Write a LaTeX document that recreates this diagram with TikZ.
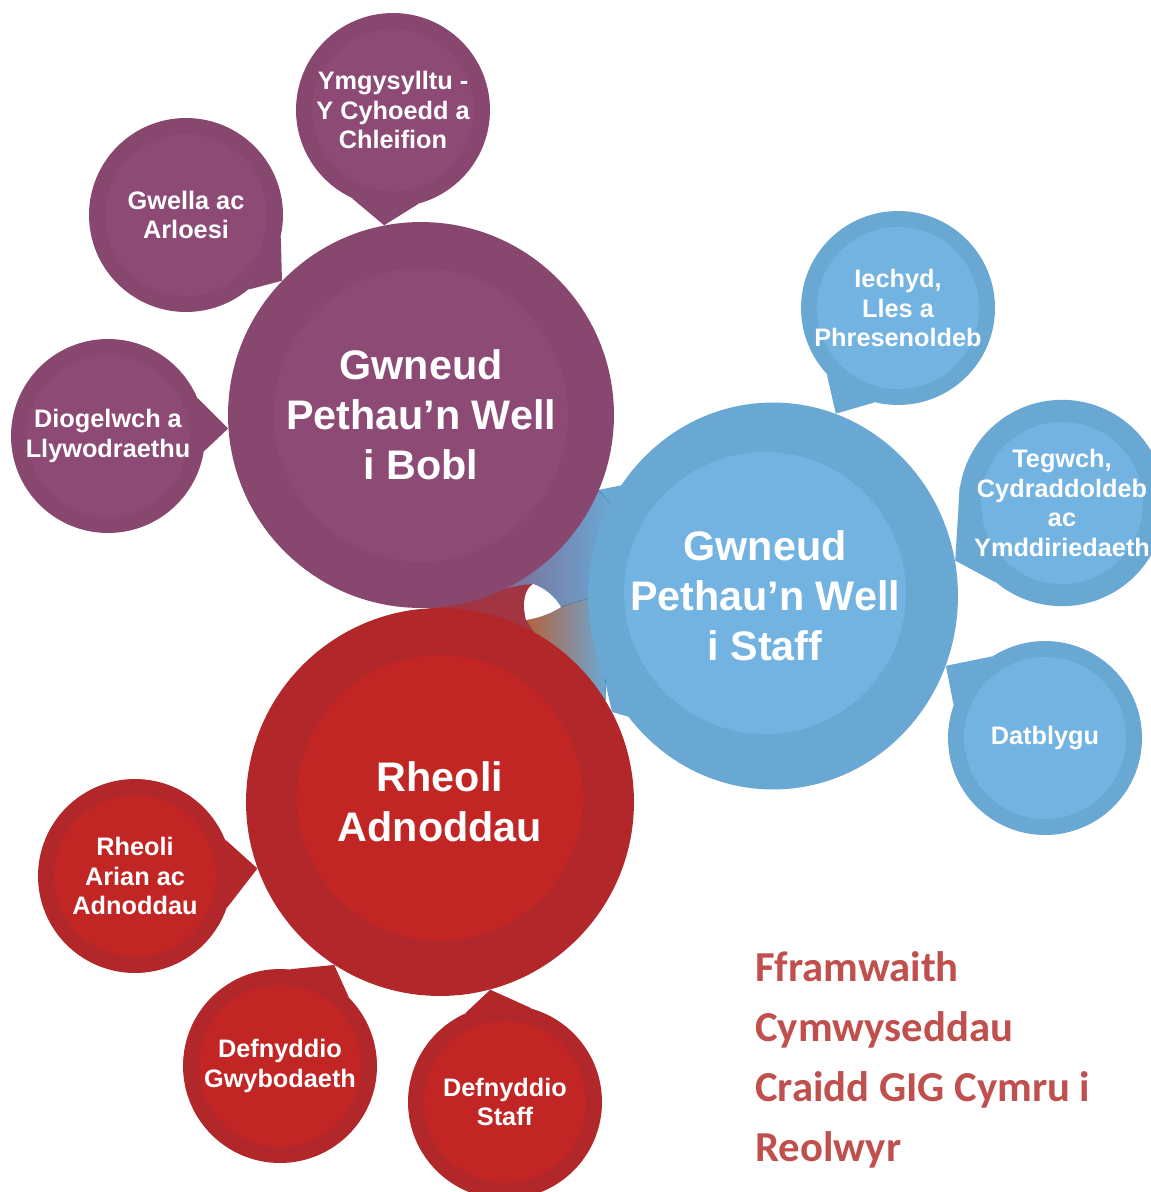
\documentclass[tikz,border=0pt]{standalone}
\usepackage{fontspec}
\setsansfont{Liberation Sans}
\newfontfamily\titlefont{Carlito}
\usepackage{tikz}
\usetikzlibrary{backgrounds,shapes.geometric}
\definecolor{purpout}{HTML}{87476F}
\definecolor{purpin}{HTML}{8C4A75}
\definecolor{blueout}{HTML}{6AA8D4}
\definecolor{bluein}{HTML}{73B3E1}
\definecolor{redout}{HTML}{B2282A}
\definecolor{redin}{HTML}{C12624}
\definecolor{redmix}{HTML}{A23542}
\definecolor{rust}{HTML}{B4633F}
\definecolor{titlered}{HTML}{C0504D}
\tikzset{core/.style n args={3}{path picture={\fill[#1] ([shift={#3}]path picture bounding box.center) circle (#2);}}}

\begin{document}
\begin{tikzpicture}[x=0.02cm,y=-0.02cm]
\tikzstyle{bigtext}=[text=white, align=center, font=\sffamily\bfseries\fontsize{23.5}{28.5}\selectfont]
\tikzstyle{big}=[circle, inner sep=0pt, bigtext]
\tikzstyle{bubble}=[circle, minimum size=3.88cm, inner sep=0pt, text=white, align=center, font=\sffamily\bfseries\fontsize{14.4}{17}\selectfont]
\useasboundingbox (0,0) rectangle (1150,1192);

  \node[big, minimum size=7.72cm, fill=purpout, core={purpin}{2.94cm}{(0,0)}] (bobl) at (421,415) {Gwneud\\Pethau’n Well\\i Bobl};
  \node[big, minimum size=7.76cm, fill=redout, core={redin}{2.86cm}{(0,0.08cm)}] (adnoddau) at (440,802) {Rheoli\\Adnoddau};
  \node[ellipse, inner sep=0pt, minimum width=7.4cm, minimum height=7.74cm, fill=blueout, core={bluein}{2.82cm}{(-0.16cm,0.06cm)},
        label={[bigtext, xshift=-0.16cm]center:Gwneud\\Pethau’n Well\\i Staff}] (staff) at (773,596) {};

  \node[bubble, fill=purpout, core={purpin}{1.62cm}{(0,0)}] (ymgysylltu) at (393,110) {Ymgysylltu -\\Y Cyhoedd a\\Chleifion};
  \node[bubble, fill=purpout, core={purpin}{1.62cm}{(0,0)}] (gwella) at (186,215) {Gwella ac\\Arloesi};
  \node[bubble, fill=purpout, core={purpin}{1.62cm}{(0,0)}] (diogelwch) at (108,436) {Diogelwch a\\Llywodraethu};

  \node[bubble, fill=blueout, core={bluein}{1.62cm}{(0,0)}] (iechyd) at (898,308) {Iechyd,\\Lles a\\Phresenoldeb};
  \node[bubble, fill=blueout, core={bluein}{1.62cm}{(0,0)}] (tegwch) at (1062,503) {Tegwch,\\Cydraddoldeb\\ac\\Ymddiriedaeth};
  \node[bubble, fill=blueout, core={bluein}{1.62cm}{(0,0)}] (datblygu) at (1045,738) {Datblygu};

  \node[bubble, fill=redout, core={redin}{1.62cm}{(0,0)}] (arian) at (135,876) {Rheoli\\Arian ac\\Adnoddau};
  \node[bubble, fill=redout, core={redin}{1.62cm}{(0,0)}] (gwybodaeth) at (280,1066) {Defnyddio\\Gwybodaeth};
  \node[bubble, fill=redout, core={redin}{1.62cm}{(0,0)}] (defstaff) at (505,1102) {Defnyddio\\Staff};

  \node[anchor=base west, inner sep=0pt, align=left, text=titlered, font=\titlefont\bfseries\fontsize{24.3}{34}\selectfont] (title) at (755,1161) {Fframwaith\\Cymwyseddau\\Craidd GIG Cymru i\\Reolwyr};

\begin{scope}[on background layer]
  \fill[blueout] (598,490) -- (623,485) -- (650,600) -- (640,720) -- (612,712) -- (598,650) -- (598,540) -- cycle;
  \fill[left color=purpout, right color=blueout] (430,608) -- (598,490) -- (612,505) -- (602,596) -- (561,607) -- (533,584) .. controls (505,585) and (480,600) .. (430,608) -- cycle;
  \fill[redmix] (430,608) .. controls (480,600) and (505,585) .. (533,584) -- (526,620) .. controls (545,650) and (570,675) .. (595,694) -- (560,720) -- (440,660) -- cycle;
  \fill[left color=rust, right color=blueout] (526,620) -- (561,607) -- (602,594) -- (606,700) -- (595,694) .. controls (570,675) and (545,650) .. (526,620) -- cycle;
  \fill[white] (526,620) .. controls (522,604) and (524,590) .. (533,584) .. controls (545,588) and (555,597) .. (561,607) .. controls (550,614) and (538,618) .. (526,620) -- cycle;

  \fill[purpout] (ymgysylltu.245) -- (bobl.101) -- (ymgysylltu.285) -- cycle;
  \fill[purpout] (gwella.347) -- (bobl.136) -- (gwella.310) -- cycle;
  \fill[purpout] (diogelwch.23) -- (bobl.184) -- (diogelwch.-9) -- cycle;
  \fill[blueout] (iechyd.223) -- (staff.71) -- (iechyd.256) -- cycle;
  \fill[blueout] (tegwch.171) -- (staff.11) -- (tegwch.230) -- cycle;
  \fill[blueout] (datblygu.123) -- (staff.-22) -- (datblygu.160) -- cycle;
  \fill[redout] (arian.22) -- (adnoddau.200) -- (arian.-19) -- cycle;
  \fill[redout] (gwybodaeth.84) -- (adnoddau.237) -- (gwybodaeth.45) -- cycle;
  \fill[redout] (defstaff.114) -- (adnoddau.285) -- (defstaff.74) -- cycle;
\end{scope}
\end{tikzpicture}
\end{document}
